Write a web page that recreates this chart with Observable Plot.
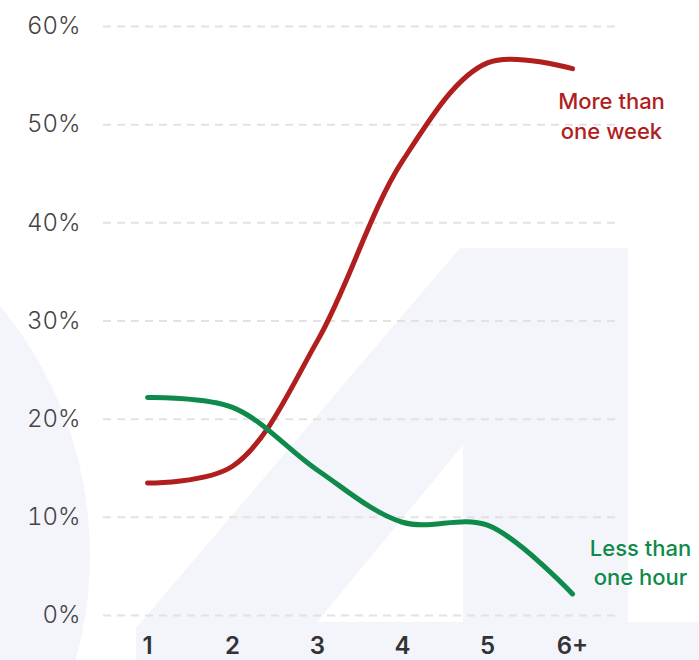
<!DOCTYPE html>
<html>
<head>
<meta charset="utf-8">
<script src="https://cdn.jsdelivr.net/npm/d3@7"></script>
<script src="https://cdn.jsdelivr.net/npm/@observablehq/plot@0.6"></script>
<style>
  html, body { margin: 0; padding: 0; background: #ffffff; }
  #wrap { position: relative; width: 699px; height: 660px; overflow: hidden; }
  #bg { position: absolute; left: 0; top: 0; }
  #chart { position: absolute; left: 0; top: 0; }
  #chart svg { background: transparent !important; }
</style>
</head>
<body>
<div id="wrap">
  <svg id="bg" width="699" height="660">
    <circle cx="-300" cy="555" r="390" fill="#f4f5fb"/>
    <polygon points="136,660 136,628 460,248 628,248 628,622 699,622 699,660" fill="#f4f5fb"/>
    <polygon points="317,622 463,445 463,622" fill="#ffffff"/>
  </svg>
  <div id="chart"></div>
</div>
<script>
const categories = ["1", "2", "3", "4", "5", "6+"];
const moreThanWeek = [13.5, 15.2, 28.0, 46.3, 56.3, 55.7];
const lessThanHour = [22.2, 21.2, 14.8, 9.5, 9.2, 2.2];
const yTicks = [0, 10, 20, 30, 40, 50, 60];
const seriesNames = ["More than\none week", "Less than\none hour"];

const red = "#b01e1e";
const green = "#0e8a4a";

const rows = [];
categories.forEach((c, i) => {
  rows.push({cat: c, value: moreThanWeek[i], series: "week"});
  rows.push({cat: c, value: lessThanHour[i], series: "hour"});
});
const week = rows.filter(d => d.series === "week");
const hour = rows.filter(d => d.series === "hour");

const chart = Plot.plot({
  width: 699,
  height: 660,
  marginLeft: 103,
  marginRight: 84,
  marginTop: 26,
  marginBottom: 45,
  style: {background: "transparent", fontFamily: "Inter, 'Open Sans', sans-serif", overflow: "visible"},
  x: {type: "point", domain: categories, padding: 0.477},
  y: {domain: [0, 60]},
  marks: [
    Plot.ruleY(yTicks, {stroke: "#e2e2e2", strokeWidth: 2, strokeDasharray: "8,6"}),
    Plot.axisY(yTicks, {tickSize: 0, tickPadding: 23, fontSize: 24, fontWeight: 300, fill: "#444444", tickFormat: d => d + "%", label: null}),
    Plot.axisX({tickSize: 0, tickPadding: 21, fontSize: 24, fontWeight: 600, fill: "#333333", label: null}),
    Plot.line(week, {x: "cat", y: "value", stroke: red, strokeWidth: 5, curve: "catmull-rom"}),
    Plot.line(hour, {x: "cat", y: "value", stroke: green, strokeWidth: 5, curve: "catmull-rom"}),
    Plot.text([week[week.length - 1]], {x: "cat", y: "value", text: () => seriesNames[0], fill: red, fontSize: 22, fontWeight: 500, dx: 39, dy: 46, lineHeight: 1.36, textAnchor: "middle"}),
    Plot.text([hour[hour.length - 1]], {x: "cat", y: "value", text: () => seriesNames[1], fill: green, fontSize: 22, fontWeight: 500, dx: 68, dy: -33, lineHeight: 1.36, textAnchor: "middle"})
  ]
});
document.getElementById("chart").appendChild(chart);
</script>
</body>
</html>
